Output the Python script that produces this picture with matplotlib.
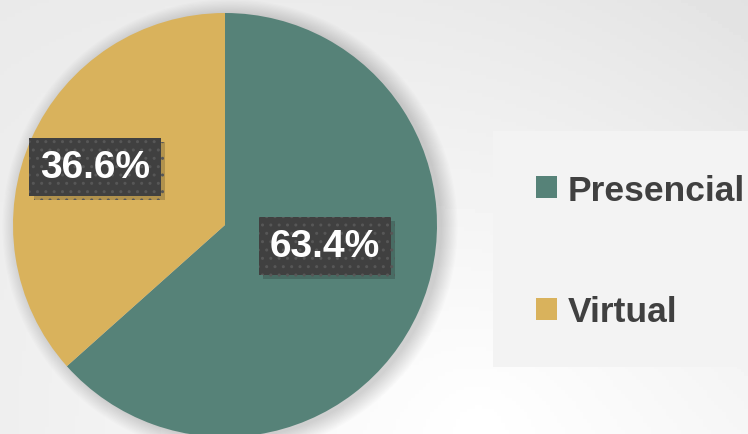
import numpy as np
import matplotlib
matplotlib.use("Agg")
import matplotlib.pyplot as plt
import matplotlib.patheffects as pe
from matplotlib.patches import Circle, Rectangle

labels = ["Presencial", "Virtual"]
shares = [63.4, 36.6]
colors = ["#568278", "#D9B25C"]

W, H = 748, 435
fig = plt.figure(figsize=(W / 100, H / 100), dpi=100)
ax = fig.add_axes([0, 0, 1, 1])

# soft gray background, lighter near the top middle
xx, yy = np.meshgrid(np.linspace(0, W, 200), np.linspace(H, 0, 120))
d = np.sqrt(((xx - 480) / 520) ** 2 + ((yy - 10) / 560) ** 2)
bg = 1.0 - 0.07 * d - 0.05 * (xx / W) * (yy / H)
ax.imshow(np.clip(bg, 0, 1), cmap="gray", vmin=0, vmax=1, extent=(0, W, 0, H),
          aspect="auto", zorder=0)

cx, cy, r = 225, H - 226, 212

# blurred shadow behind the pie
for i in range(14):
    ax.add_patch(Circle((cx + 5, cy - 2), r + 1.2 * i, color="black",
                        alpha=0.011, lw=0, zorder=1))

wedges, texts, autotexts = ax.pie(
    shares, colors=colors, startangle=90, counterclock=False,
    center=(cx, cy), radius=r, autopct="%1.1f%%", pctdistance=0.67,
    wedgeprops=dict(linewidth=0), frame=True)
ax.set_xlim(0, W)
ax.set_ylim(0, H)
ax.axis("off")
for w in wedges:
    w.set_zorder(2)

# best-fit style placement of the big slice label
autotexts[0].set_position((cx + 0.47 * r, cy - 0.1 * r))
for t in autotexts:
    t.set_fontfamily("Liberation Sans")
    t.set_fontweight("bold")
    t.set_fontsize(28)
    t.set_color("white")
    t.set_zorder(5)
    t.set_bbox(dict(boxstyle="square,pad=0.28", facecolor="#404040",
                    edgecolor="#575757", hatch="..", linewidth=0))
    t.get_bbox_patch().set_path_effects(
        [pe.SimplePatchShadow(offset=(3, -3), alpha=0.2), pe.Normal()])

# legend panel
ax.add_patch(Rectangle((493, H - 368), 260, 236, facecolor="#f3f3f3",
                       edgecolor="none", zorder=1))
leg = ax.legend(wedges, labels, loc="center left",
                bbox_to_anchor=(518 / W, (H - 252) / H), frameon=False,
                prop=dict(family="Liberation Sans", weight="bold", size=25.5),
                labelcolor="#404040", handlelength=0.6, handleheight=0.6,
                handletextpad=0.3, labelspacing=2.5, borderpad=0)
leg.set_zorder(6)

fig.savefig("out.png", dpi=100)
plt.close(fig)
